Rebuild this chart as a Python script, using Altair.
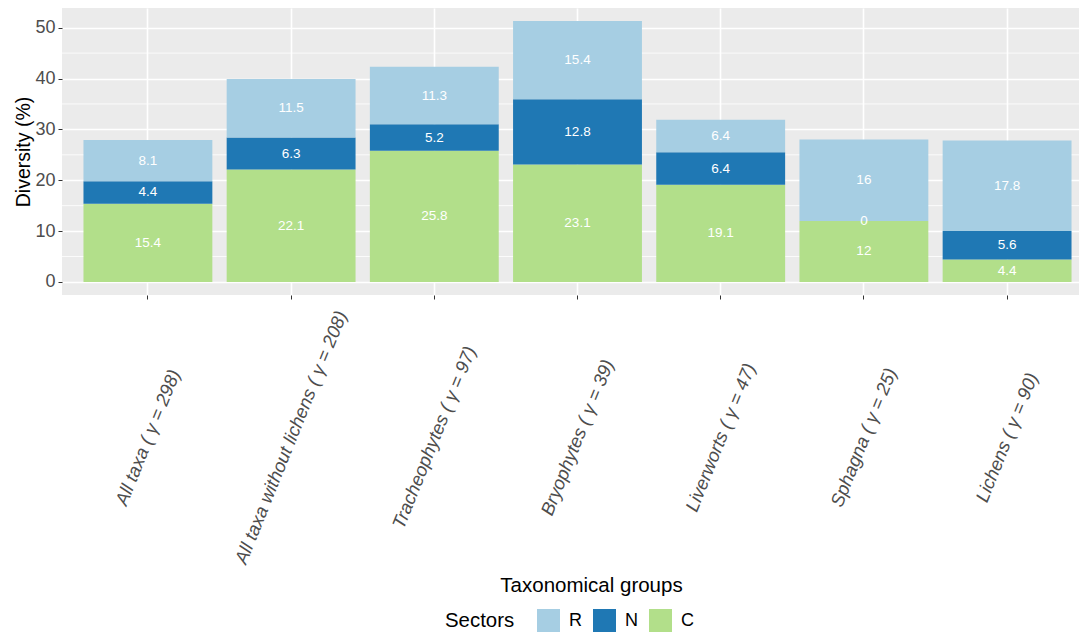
import altair as alt
import pandas as pd

groups = [
    "All taxa ( γ = 298)",
    "All taxa without lichens ( γ = 208)",
    "Tracheophytes ( γ = 97)",
    "Bryophytes ( γ = 39)",
    "Liverworts ( γ = 47)",
    "Sphagna ( γ = 25)",
    "Lichens ( γ = 90)",
]
c_vals = [15.4, 22.1, 25.8, 23.1, 19.1, 12, 4.4]
n_vals = [4.4, 6.3, 5.2, 12.8, 6.4, 0, 5.6]
r_vals = [8.1, 11.5, 11.3, 15.4, 6.4, 16, 17.8]
sectors = ["R", "N", "C"]
sector_colors = ["#A6CEE3", "#1F78B4", "#B2DF8A"]
y_ticks = [0, 10, 20, 30, 40, 50]
y_minor = [5, 15, 25, 35, 45]

FONT = "Liberation Sans"

rows = []
for g, c, n, r in zip(groups, c_vals, n_vals, r_vals):
    base = 0.0
    for s, v, o in (("C", c, 0), ("N", n, 1), ("R", r, 2)):
        rows.append({"group": g, "sector": s, "value": v, "ord": o,
                     "mid": base + v / 2, "label": f"{v:g}"})
        base += v
df = pd.DataFrame(rows)
minor_df = pd.DataFrame({"v": y_minor})

y_scale = alt.Scale(domain=[-2.565, 53.865], nice=False, zero=False)
x_scale = alt.Scale(paddingInner=0.1, paddingOuter=0.15, round=False)

x_axis = alt.Axis(
    title="Taxonomical groups", titleFont=FONT, titleFontSize=20.5, titleFontWeight="normal",
    titleColor="#000000", titleX=529, titleY=296, titleBaseline="alphabetic",
    labelFont=FONT, labelFontSize=18.5, labelColor="#4D4D4D", labelFontStyle="italic",
    labelAngle=292, labelAlign="center", labelBaseline="middle", labelPadding=138,
    labelLimit=500, labelOverlap=False, labelFlush=False,
    ticks=True, tickColor="#333333", tickSize=4, tickWidth=1, bandPosition=0.5,
    grid=True, gridColor="#FFFFFF", gridWidth=1.6, domain=False,
)
y_axis = alt.Axis(
    title="Diversity (%)", titleFont=FONT, titleFontSize=19.5, titleFontWeight="normal",
    titleColor="#000000", titleX=-33, titleBaseline="alphabetic",
    labelFont=FONT, labelFontSize=18, labelColor="#4D4D4D", labelPadding=3,
    values=y_ticks, ticks=True, tickColor="#333333", tickSize=4, tickWidth=1,
    grid=True, gridColor="#FFFFFF", gridWidth=1.6, domain=False,
)

minor = alt.Chart(minor_df).mark_rule(color="#FFFFFF", strokeWidth=0.8).encode(
    y=alt.Y("v:Q", scale=y_scale, axis=y_axis)
)

bars = alt.Chart(df).mark_bar().encode(
    x=alt.X("group:N", sort=groups, scale=x_scale, axis=x_axis),
    y=alt.Y("value:Q", stack="zero", scale=y_scale, axis=y_axis),
    color=alt.Color(
        "sector:N",
        scale=alt.Scale(domain=sectors, range=sector_colors),
        legend=alt.Legend(
            title="Sectors", orient="none", legendX=383, legendY=601,
            direction="horizontal", titleOrient="left", titleAnchor="middle",
            titleBaseline="middle",
            titleFont=FONT, titleFontSize=20.4, titleFontWeight="normal", titleColor="#000000",
            titlePadding=22,
            labelFont=FONT, labelFontSize=18, labelColor="#000000", labelOffset=9,
            symbolType="square", symbolSize=529, symbolStrokeWidth=0, symbolOpacity=1,
            columnPadding=11,
        ),
    ),
    order=alt.Order("ord:Q"),
)

texts = alt.Chart(df).mark_text(color="#FFFFFF", font=FONT, fontSize=13.5).encode(
    x=alt.X("group:N", sort=groups, scale=x_scale, axis=x_axis),
    y=alt.Y("mid:Q", scale=y_scale, axis=y_axis),
    text="label:N",
)

chart = alt.layer(minor, bars, texts).properties(
    width=1031, height=287,
    padding={"left": 54, "top": 0, "right": -14, "bottom": 338},
    autosize=alt.AutoSizeParams(type="none"),
).configure_view(fill="#EBEBEB", strokeWidth=0)

chart.save("out.html", embed_options={"renderer": "svg", "actions": False})
